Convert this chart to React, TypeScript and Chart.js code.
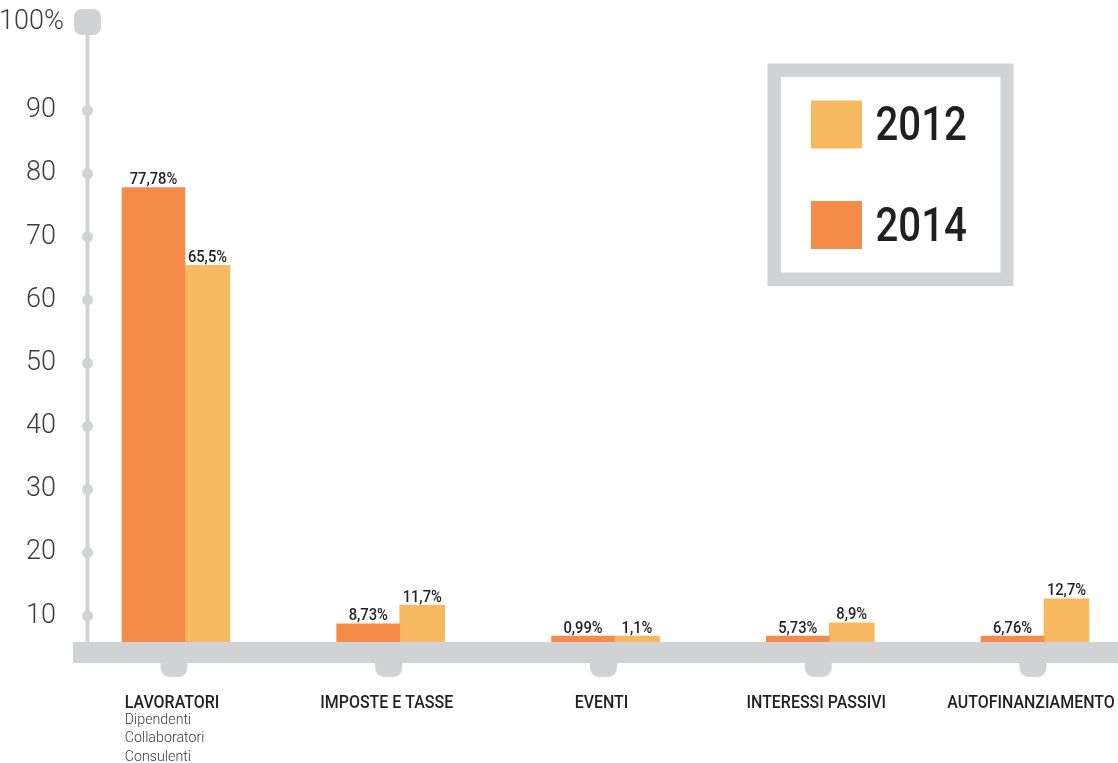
import React, { useEffect, useRef } from 'react';
import { Chart, registerables } from 'chart.js';

Chart.register(...registerables);

// ---- data ----
const CATEGORIES = ['LAVORATORI', 'IMPOSTE E TASSE', 'EVENTI', 'INTERESSI PASSIVI', 'AUTOFINANZIAMENTO'];
const SUB_LABELS: string[][] = [['Dipendenti', 'Collaboratori', 'Consulenti'], [], [], [], []];
const SERIES_2014 = [77.78, 8.73, 0.99, 5.73, 6.76];
const SERIES_2012 = [65.5, 11.7, 1.1, 8.9, 12.7];
const Y_TICKS = [10, 20, 30, 40, 50, 60, 70, 80, 90];
const Y_TOP_LABEL = '100%';
const LEGEND_ORDER = ['2012', '2014'];

// ---- styles ----
const C_2014 = '#f58b48';
const C_2012 = '#f7b960';
const GREY = '#d1d2d4';
const DARK = '#231f20';
const TICK_COLOR = '#3c3c3c';
const FONT = 'Roboto, "Noto Sans", sans-serif';
const HIDDEN = 16; // px of bar hidden under the base band

const fmt = (v: number) => String(v).replace('.', ',') + '%';

function scaledText(ctx: CanvasRenderingContext2D, text: string, x: number, y: number, sx: number) {
  ctx.save();
  ctx.translate(x, y);
  ctx.scale(sx, 1);
  ctx.fillText(text, 0, 0);
  ctx.restore();
}

const decorPlugin = {
  id: 'decor',
  beforeDatasetsDraw(chart: any) {
    const { ctx, chartArea, scales } = chart;
    const ax = chartArea.left - 97.5;
    const bandTop = chartArea.bottom - HIDDEN - 21;
    ctx.save();
    ctx.strokeStyle = GREY;
    ctx.lineWidth = 4;
    ctx.beginPath();
    ctx.moveTo(ax, chartArea.top);
    ctx.lineTo(ax, bandTop);
    ctx.stroke();
    ctx.fillStyle = GREY;
    ctx.beginPath();
    ctx.roundRect(ax - 13.5, chartArea.top - 13, 27, 26, 8);
    ctx.fill();
    Y_TICKS.forEach((v) => {
      const py = scales.y.getPixelForValue(v);
      ctx.beginPath();
      ctx.arc(ax, py, 5.5, 0, Math.PI * 2);
      ctx.fill();
    });
    ctx.fillStyle = TICK_COLOR;
    ctx.font = `300 27px ${FONT}`;
    ctx.textAlign = 'right';
    ctx.textBaseline = 'middle';
    ctx.fillText(Y_TOP_LABEL, chartArea.left - 121, chartArea.top);
    ctx.restore();
  },
  afterDatasetsDraw(chart: any) {
    const { ctx, chartArea, scales } = chart;
    const bandBottom = chartArea.bottom - HIDDEN;
    const bandTop = bandBottom - 21;
    ctx.save();
    // base band
    ctx.fillStyle = GREY;
    ctx.fillRect(chartArea.left - 112, bandTop, chart.width - (chartArea.left - 112), 21);
    // nubs + category labels
    CATEGORIES.forEach((cat, j) => {
      const cx = scales.x.getPixelForValue(j) - 11;
      ctx.fillStyle = GREY;
      ctx.beginPath();
      ctx.roundRect(cx - 13.5, bandBottom - 4, 27, 18, [0, 0, 9, 9]);
      ctx.fill();
      const lx = cx - 2;
      ctx.fillStyle = DARK;
      ctx.font = `500 19px ${FONT}`;
      ctx.textAlign = 'center';
      ctx.textBaseline = 'alphabetic';
      const sx = 0.84;
      scaledText(ctx, cat, lx, bandBottom + 45, sx);
      const w = ctx.measureText(cat).width * sx;
      const left = lx - w / 2;
      ctx.fillStyle = '#3a3a3a';
      ctx.font = `300 15.5px ${FONT}`;
      ctx.textAlign = 'left';
      SUB_LABELS[j].forEach((s, k) => {
        scaledText(ctx, s, left, bandBottom + 61 + k * 18.3, 0.92);
      });
    });
    // value labels
    ctx.fillStyle = DARK;
    ctx.font = `500 16px ${FONT}`;
    ctx.textAlign = 'center';
    ctx.textBaseline = 'alphabetic';
    chart.data.datasets.forEach((ds: any, i: number) => {
      const meta = chart.getDatasetMeta(i);
      meta.data.forEach((el: any, j: number) => {
        scaledText(ctx, fmt(ds.data[j]), el.x, el.y - 3.5, 0.92);
      });
    });
    ctx.restore();
  },
  afterDraw(chart: any) {
    const { ctx } = chart;
    ctx.save();
    // legend frame
    ctx.fillStyle = GREY;
    ctx.fillRect(767.5, 63.5, 246, 222.5);
    ctx.fillStyle = '#ffffff';
    ctx.fillRect(781, 77, 219.5, 195.5);
    const items = LEGEND_ORDER.map((lbl) => chart.data.datasets.find((d: any) => d.label === lbl));
    items.forEach((ds: any, k: number) => {
      const top = 100.5 + k * 100.5;
      ctx.fillStyle = ds.backgroundColor;
      ctx.fillRect(811, top, 51, 48);
      ctx.fillStyle = DARK;
      ctx.font = `500 49px ${FONT}`;
      ctx.textAlign = 'left';
      ctx.textBaseline = 'alphabetic';
      scaledText(ctx, ds.label, 875.5, top + 39.5, 0.82);
    });
    ctx.restore();
  },
};

export default function App() {
  const ref = useRef<HTMLCanvasElement | null>(null);
  useEffect(() => {
    if (!ref.current) return;
    const clip = { left: false, top: false, right: false, bottom: -HIDDEN };
    const chart = new Chart(ref.current, {
      type: 'bar',
      data: {
        labels: CATEGORIES,
        datasets: [
          {
            label: '2014',
            data: SERIES_2014,
            backgroundColor: C_2014,
            barThickness: 63,
            minBarLength: 43,
            clip: clip as any,
          },
          {
            label: '2012',
            data: SERIES_2012,
            backgroundColor: C_2012,
            barThickness: 45,
            minBarLength: 43,
            clip: clip as any,
          },
        ],
      },
      options: {
        animation: false,
        responsive: true,
        maintainAspectRatio: false,
        layout: { padding: { top: 22, bottom: 84, left: 0, right: 74 } },
        plugins: { legend: { display: false }, tooltip: { enabled: false } },
        scales: {
          x: { type: 'category', offset: false, display: false },
          y: {
            type: 'linear',
            min: 0,
            max: 104,
            afterBuildTicks: (s: any) => {
              s.ticks = Y_TICKS.map((v) => ({ value: v }));
            },
            afterFit: (s: any) => {
              s.width = 185;
              s.paddingTop = 0;
              s.paddingBottom = 0;
            },
            grid: { display: false },
            border: { display: false },
            ticks: {
              padding: 121,
              color: TICK_COLOR,
              font: { family: FONT, size: 27, weight: '300' as any },
            },
          },
        },
      },
      plugins: [decorPlugin],
    });
    return () => chart.destroy();
  }, []);
  return (
    <div style={{ position: 'absolute', left: 0, top: 0, width: 1118, height: 763 }}>
      <canvas ref={ref} />
    </div>
  );
}
